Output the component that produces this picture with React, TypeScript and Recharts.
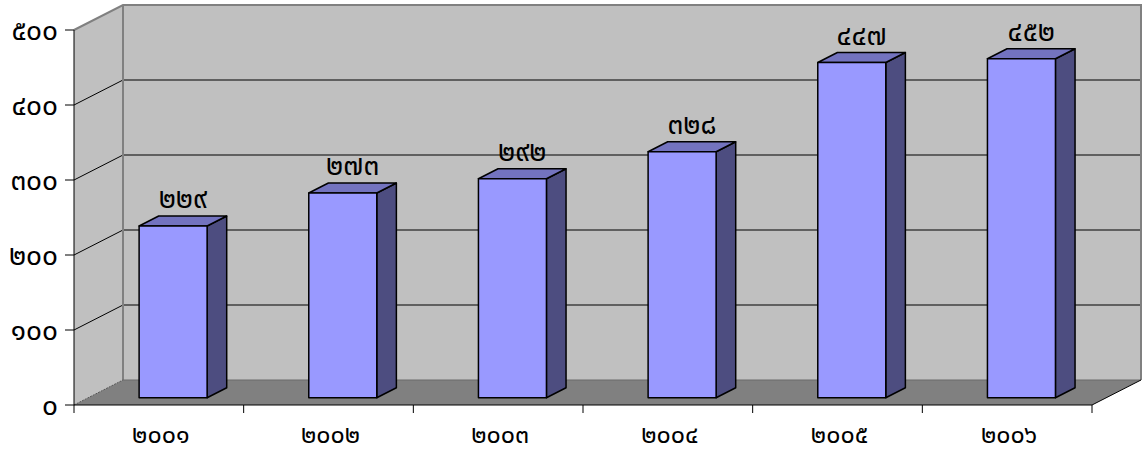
import { BarChart, Bar, XAxis, YAxis, ReferenceArea, LabelList } from 'recharts';

const years = [2001, 2002, 2003, 2004, 2005, 2006];
const counts = [229, 273, 292, 328, 447, 452];
const yTicks = [0, 100, 200, 300, 400, 500];

const data = years.map((year, i) => ({ year, count: counts[i] }));

const THAI_DIGITS = '๐๑๒๓๔๕๖๗๘๙';
const toThai = (n: number | string) => String(n).replace(/[0-9]/g, (d) => THAI_DIGITS[Number(d)]);

const FONT = "Tahoma, 'Noto Sans Thai', 'Loma', 'Garuda', 'DejaVu Sans', sans-serif";
const FONT_SIZE = 28;

// oblique projection of the depth axis
const DX = 49;
const DY = -25;
const BAR_Z0 = 0.29;
const BAR_Z1 = 0.69;
const Y_MAX = 500;

function Walls(props: any) {
  const { x, y, width, height } = props;
  const bottom = y + height;
  const right = x + width;
  const yOf = (t: number) => bottom - (height * t) / Y_MAX;
  return (
    <g>
      <polygon
        points={`${x},${bottom} ${x},${y} ${x + DX},${y + DY} ${x + DX},${bottom + DY}`}
        fill="#c0c0c0"
      />
      <rect x={x + DX} y={y + DY} width={width} height={height} fill="#c0c0c0" />
      <polygon
        points={`${x},${bottom} ${right},${bottom} ${right + DX},${bottom + DY} ${x + DX},${bottom + DY}`}
        fill="#808080"
      />
      {yTicks
        .filter((t) => t > 0 && t < Y_MAX)
        .map((t) => (
          <polyline
            key={t}
            points={`${x},${yOf(t)} ${x + DX},${yOf(t) + DY} ${right + DX},${yOf(t) + DY}`}
            fill="none"
            stroke="#000"
            strokeWidth={1}
          />
        ))}
      <polyline
        points={`${x},${y} ${x + DX},${y + DY} ${right + DX},${y + DY} ${right + DX},${bottom + DY}`}
        fill="none"
        stroke="#808080"
        strokeWidth={2}
      />
      <line x1={x + DX} y1={y + DY} x2={x + DX} y2={bottom + DY} stroke="#808080" strokeWidth={2} />
      <line x1={x + DX} y1={bottom + DY} x2={right + DX} y2={bottom + DY} stroke="#6a6a6a" strokeWidth={1} />
      <line x1={x} y1={bottom} x2={x + DX} y2={bottom + DY} stroke="#555" strokeWidth={1} strokeDasharray="2 1" />
      <line x1={right} y1={bottom} x2={right + DX} y2={bottom + DY} stroke="#000" strokeWidth={1} />
    </g>
  );
}

function Bar3D(props: any) {
  const { x, y, width, height } = props;
  if (width == null || height == null) return null;
  const fx = x + DX * BAR_Z0;
  const fy = y + DY * BAR_Z0;
  const bx = DX * (BAR_Z1 - BAR_Z0);
  const by = DY * (BAR_Z1 - BAR_Z0);
  const edge = { stroke: '#000', strokeWidth: 1.5, strokeLinejoin: 'round' as const };
  return (
    <g>
      <polygon
        points={`${fx + width},${fy} ${fx + width + bx},${fy + by} ${fx + width + bx},${fy + height + by} ${fx + width},${fy + height}`}
        fill="#4d4d80"
        {...edge}
      />
      <polygon
        points={`${fx},${fy} ${fx + width},${fy} ${fx + width + bx},${fy + by} ${fx + bx},${fy + by}`}
        fill="#7373bf"
        {...edge}
      />
      <rect x={fx} y={fy} width={width} height={height} fill="#9999ff" {...edge} />
    </g>
  );
}

function ValueLabel(props: any) {
  const { x, y, width, value } = props;
  const mid = (BAR_Z0 + BAR_Z1) / 2;
  const cx = x + width / 2 + DX * mid;
  const top = y + DY * BAR_Z1;
  return (
    <text x={cx} y={top - 8} textAnchor="middle" fontFamily={FONT} fontSize={FONT_SIZE} fill="#000">
      {toThai(value)}
    </text>
  );
}

function YearTick(props: any) {
  const { x, y, payload, index, visibleTicksCount } = props;
  const half = payload.offset ?? 0;
  return (
    <g>
      <line x1={x - half} y1={y} x2={x - half} y2={y + 8} stroke="#000" />
      {index === visibleTicksCount - 1 && (
        <line x1={x + half} y1={y} x2={x + half} y2={y + 8} stroke="#000" />
      )}
      <text x={x + 2} y={y + 38} textAnchor="middle" fontFamily={FONT} fontSize={25} fill="#000">
        {toThai(payload.value)}
      </text>
    </g>
  );
}

export default function App() {
  return (
    <div style={{ position: 'absolute', left: 0, top: 0, background: '#fff' }}>
      <BarChart
        width={1143}
        height={456}
        data={data}
        margin={{ top: 30, right: 51, bottom: 0, left: 0 }}
        barCategoryGap="30%"
      >
        <ReferenceArea y1={0} y2={Y_MAX} ifOverflow="visible" shape={<Walls />} />
        <XAxis
          dataKey="year"
          height={51}
          tickLine={false}
          tickSize={0}
          tickMargin={0}
          axisLine={{ stroke: '#000' }}
          tick={<YearTick />}
          interval={0}
        />
        <YAxis
          width={74}
          domain={[0, Y_MAX]}
          ticks={yTicks}
          tickFormatter={toThai}
          tickSize={9}
          tickMargin={7}
          axisLine={{ stroke: '#000' }}
          tickLine={{ stroke: '#000' }}
          tick={{ fill: '#000', fontFamily: FONT, fontSize: FONT_SIZE }}
        />
        <Bar dataKey="count" shape={<Bar3D />} isAnimationActive={false}>
          <LabelList dataKey="count" content={<ValueLabel />} />
        </Bar>
      </BarChart>
    </div>
  );
}
